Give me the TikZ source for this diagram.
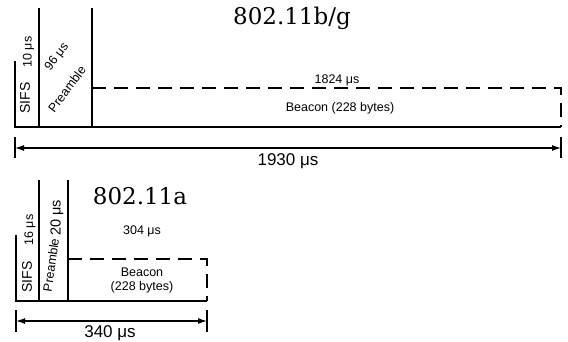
\documentclass[tikz,border=0pt]{standalone}
\usepackage{fontspec}
\setmainfont{Liberation Sans}
\newfontfamily\titlefont{DejaVu Serif}
\usetikzlibrary{arrows.meta}
\begin{document}
\begin{tikzpicture}[x=1pt,y=-1pt,
  frame/.style={line width=1.5pt},
  dashline/.style={line width=1.5pt,dash pattern=on 14pt off 8pt},
  dimline/.style={line width=1.2pt,{Latex[length=9pt,width=6pt]}-{Latex[length=9pt,width=6pt]}},
  bar/.style={line width=1.5pt},
  ttl/.style={font=\titlefont\fontsize{23}{26}\selectfont,inner sep=0pt},
  small/.style={font=\fontsize{12.5}{14}\selectfont,inner sep=0pt,align=center},
  dim/.style={font=\fontsize{17}{19}\selectfont,inner sep=0pt},
  sifs/.style={font=\fontsize{14}{16}\selectfont,inner sep=0pt,rotate=90}]
\useasboundingbox (0,0) rectangle (568,341);
% ---------- 802.11b/g ----------
\coordinate (a1) at (15,61);
\coordinate (a0) at (15,127);
\coordinate (b1) at (39,8);
\coordinate (b0) at (39,127);
\coordinate (c1) at (92,8);
\coordinate (c0) at (92,127);
\coordinate (cd) at (92,88);
\coordinate (e0) at (561,127);
\coordinate (ed) at (561,88);
\draw[frame] (a1) -- (a0) -- (e0);
\draw[frame] (b1) -- (b0);
\draw[frame] (c1) -- (c0);
\draw[dashline] (cd) -- (ed) -- (e0);
\coordinate (l1) at (15,137);
\coordinate (l2) at (15,158);
\coordinate (r1) at (561,137);
\coordinate (r2) at (561,158);
\coordinate (lm) at (15,148);
\coordinate (rm) at (561,148);
\draw[bar] (l1) -- (l2);
\draw[bar] (r1) -- (r2);
\draw[dimline] (lm) -- (rm);
\node[ttl] (t1) at (292,18.5) {802.11b/g};
\node[small] (d1) at (337,80) {1824 μs};
\node[small] (bc1) at (340,108) {Beacon (228 bytes)};
\node[dim] (tot1) at (288,161) {1930 μs};
\node[sifs] (s1) at (25,98) {SIFS};
\node[small,rotate=90] (s1t) at (28.5,52) {10 μs};
\node[small,rotate=53] (p1t) at (57,57) {96 μs};
\node[small,rotate=53] (p1) at (67,89) {Preamble};
% ---------- 802.11a ----------
\coordinate (A1) at (16,235);
\coordinate (A0) at (16,301);
\coordinate (B1) at (39,180);
\coordinate (B0) at (39,301);
\coordinate (C1) at (68,180);
\coordinate (C0) at (68,301);
\coordinate (Cd) at (68,259);
\coordinate (E0) at (207,301);
\coordinate (Ed) at (207,259);
\draw[frame] (A1) -- (A0) -- (E0);
\draw[frame] (B1) -- (B0);
\draw[frame] (C1) -- (C0);
\draw[dashline] (Cd) -- (Ed) -- (E0);
\coordinate (L1) at (16,310);
\coordinate (L2) at (16,332);
\coordinate (R1) at (207,310);
\coordinate (R2) at (207,332);
\coordinate (Lm) at (16,321);
\coordinate (Rm) at (207,321);
\draw[bar] (L1) -- (L2);
\draw[bar] (R1) -- (R2);
\draw[dimline] (Lm) -- (Rm);
\node[ttl] (t2) at (140,196) {802.11a};
\node[small] (d2) at (142,231) {304 μs};
\node[small] (bc2) at (142,280) {Beacon\\(228 bytes)};
\node[dim] (tot2) at (110,333) {340 μs};
\node[sifs] (s2) at (27,277) {SIFS};
\node[small,rotate=90] (s2t) at (30,230) {16 μs};
\node[dim,font=\fontsize{14.5}{16}\selectfont,rotate=90] (p2t) at (57,218) {20 μs};
\node[small,rotate=82] (p2) at (51,265) {Preamble};
\end{tikzpicture}
\end{document}
